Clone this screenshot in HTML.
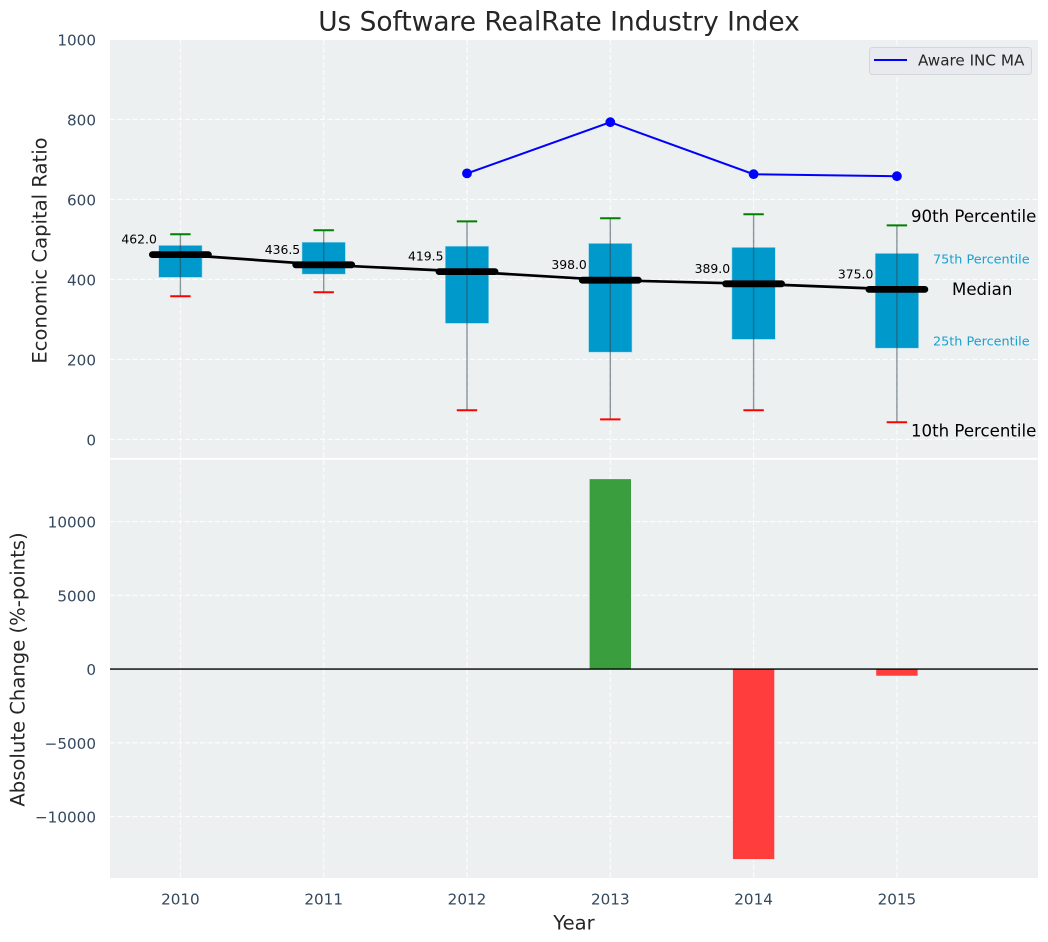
<!DOCTYPE html>
<html>
<head>
<meta charset="utf-8">
<title>Us Software RealRate Industry Index</title>
<style>
html,body{margin:0;padding:0;background:#fff;}
svg{display:block;}
text{font-family:"DejaVu Sans","Liberation Sans",sans-serif;}
</style>
</head>
<body>
<svg id="chart" xmlns="http://www.w3.org/2000/svg" width="1048" height="942" viewBox="0 0 1048 942"></svg>
<script>
const years = [2010, 2011, 2012, 2013, 2014, 2015];
const p10 = [358, 368, 73, 50, 73, 43];
const p25 = [405, 413, 290, 218, 250, 228];
const medians = [462, 436.5, 419.5, 398, 389, 375];
const p75 = [485, 493, 483, 490, 480, 465];
const p90 = [513, 523, 545, 553, 563, 535];
const maYears = [2012, 2013, 2014, 2015];
const maValues = [665, 793, 663, 658];
const changes = [0, 0, 0, 12880, -12880, -450];
const topTicks = [0, 200, 400, 600, 800, 1000];
const bottomTicks = [-10000, -5000, 0, 5000, 10000];

const svg = document.getElementById('chart');
const NS = 'http://www.w3.org/2000/svg';
const L = 110, R = 1038, T1 = 40, B1 = 457.8, T2 = 459.8, B2 = 878;

function x(v) { return 180.4 + (v - 2010) * 143.3; }
function y1(v) { return 439.4 - v * 0.4; }
function y2(v) { return 669.1 - v * 0.01475; }
function fmtTick(v) { return v < 0 ? '\u2212' + Math.abs(v) : String(v); }

function make(tag, attrs, text) {
  const el = document.createElementNS(NS, tag);
  for (const k in attrs) el.setAttribute(k, attrs[k]);
  if (text !== undefined) el.textContent = text;
  svg.appendChild(el);
  return el;
}
function name(el, n, i) {
  
  
  return el;
}
function line(x1, y1a, x2, y2a, stroke, w, extra) {
  return make('line', Object.assign({x1: x1, y1: y1a, x2: x2, y2: y2a, stroke: stroke, 'stroke-width': w}, extra || {}));
}
function label(tx, ty, s, size, fill, anchor, extra) {
  return make('text', Object.assign({x: tx, y: ty, 'font-size': size, fill: fill, 'text-anchor': anchor || 'middle', 'dominant-baseline': 'central'}, extra || {}), s);
}

/* panels */
name(make('rect', {x: L, y: T1, width: R - L, height: B1 - T1, fill: '#ecf0f1'}), 'top-panel-background');
name(make('rect', {x: L, y: T2, width: R - L, height: B2 - T2, fill: '#ecf0f1'}), 'bottom-panel-background');

/* grid */
const dash = {'stroke-dasharray': '5 2.5', opacity: 0.9};
years.forEach(function (yr) {
  name(line(x(yr), T1, x(yr), B1, '#fff', 1.1, dash), 'top-grid-vertical');
  name(line(x(yr), T2, x(yr), B2, '#fff', 1.1, dash), 'bottom-grid-vertical');
});
topTicks.forEach(function (t) {
  name(line(L, y1(t), R, y1(t), '#fff', 1.1, dash), 'top-grid-horizontal');
  name(label(96, y1(t) + 1, fmtTick(t), 15.2, '#34495e', 'end'), 'top-y-tick-label');
});
bottomTicks.forEach(function (t) {
  name(line(L, y2(t), R, y2(t), '#fff', 1.1, dash), 'bottom-grid-horizontal');
  name(label(96, y2(t) + 1, fmtTick(t), 15.2, '#34495e', 'end'), 'bottom-y-tick-label');
});
years.forEach(function (yr) {
  name(label(x(yr), 899.5, String(yr), 15.2, '#34495e'), 'x-tick-label');
});

/* change bars */
years.forEach(function (yr, i) {
  if (!changes[i]) return;
  const a = y2(changes[i]), b = y2(0);
  const r = make('rect', {x: x(yr) - 20.7, y: Math.min(a, b), width: 41.4, height: Math.abs(a - b),
    fill: changes[i] > 0 ? '#3a9e3f' : '#ff3d3d'});
  name(r, 'change-bar-' + yr);
});
name(line(L, y2(0), R, y2(0), '#000', 1.4), 'zero-line');

/* boxes */
years.forEach(function (yr, i) {
  const cx = x(yr);
  name(make('rect', {x: cx - 21.7, y: y1(p75[i]), width: 43.4, height: y1(p25[i]) - y1(p75[i]),
    fill: '#0099cc', stroke: '#a8dcec', 'stroke-width': 0.6}), 'box-' + yr);
  name(line(cx, y1(p90[i]), cx, y1(p10[i]), '#33474f', 1.4, {opacity: 0.55}), 'whisker-' + yr);
  name(line(cx - 10.2, y1(p90[i]), cx + 10.2, y1(p90[i]), '#008000', 2), 'cap-90th-' + yr);
  name(line(cx - 10.2, y1(p10[i]), cx + 10.2, y1(p10[i]), '#ff0000', 2), 'cap-10th-' + yr);
});

/* median trend */
const medianPts = years.map(function (yr, i) { return x(yr) + ',' + y1(medians[i]); }).join(' ');
name(make('polyline', {points: medianPts, fill: 'none', stroke: '#000', 'stroke-width': 2.7}), 'median-trend-line');
years.forEach(function (yr, i) {
  const cx = x(yr), cy = y1(medians[i]);
  name(line(cx - 28, cy, cx + 28, cy, '#000', 6.8, {'stroke-linecap': 'round'}), 'median-bar-' + yr);
  name(label(cx - 23.5, cy - 15.5, medians[i].toFixed(1), 12.4, '#000', 'end'), 'median-value-' + yr);
});

/* moving average */
const maPts = maYears.map(function (yr, i) { return x(yr) + ',' + y1(maValues[i]); }).join(' ');
name(make('polyline', {points: maPts, fill: 'none', stroke: '#0000ff', 'stroke-width': 2}), 'aware-inc-ma-line');
maYears.forEach(function (yr, i) {
  name(make('circle', {cx: x(yr), cy: y1(maValues[i]), r: 4.9, fill: '#0000ff'}), 'aware-inc-ma-point-' + yr);
});

/* percentile annotations */
name(label(911, 216.5, '90th Percentile', 16.6, '#000', 'start'), 'annotation-90th-percentile');
name(label(933, 260, '75th Percentile', 12.8, '#1a9fd0', 'start'), 'annotation-75th-percentile');
name(label(952, 289.5, 'Median', 16.6, '#000', 'start'), 'annotation-median');
name(label(933, 342, '25th Percentile', 12.8, '#1a9fd0', 'start'), 'annotation-25th-percentile');
name(label(911, 431, '10th Percentile', 16.6, '#000', 'start'), 'annotation-10th-percentile');

/* legend */
name(make('rect', {x: 869.5, y: 47.5, width: 162, height: 27, rx: 3, fill: '#e9eaef', stroke: '#d4d6da', 'stroke-width': 1}), 'legend-box', true);
name(line(874, 60, 907, 60, '#0000ff', 2), 'legend-line');
name(label(918, 60.5, 'Aware INC MA', 15.2, '#262626', 'start'), 'legend-label');

/* titles */
name(label(559, 22, 'Us Software RealRate Industry Index', 26.4, '#262626'), 'chart-title');
name(label(574, 923, 'Year', 19.6, '#262626'), 'x-axis-title');
name(label(40, 250.5, 'Economic Capital Ratio', 19.6, '#262626', 'middle', {transform: 'rotate(-90 40 250.5)'}), 'top-y-axis-title');
name(label(18, 669.5, 'Absolute Change (%-points)', 19.6, '#262626', 'middle', {transform: 'rotate(-90 18 669.5)'}), 'bottom-y-axis-title');
</script>
</body>
</html>
